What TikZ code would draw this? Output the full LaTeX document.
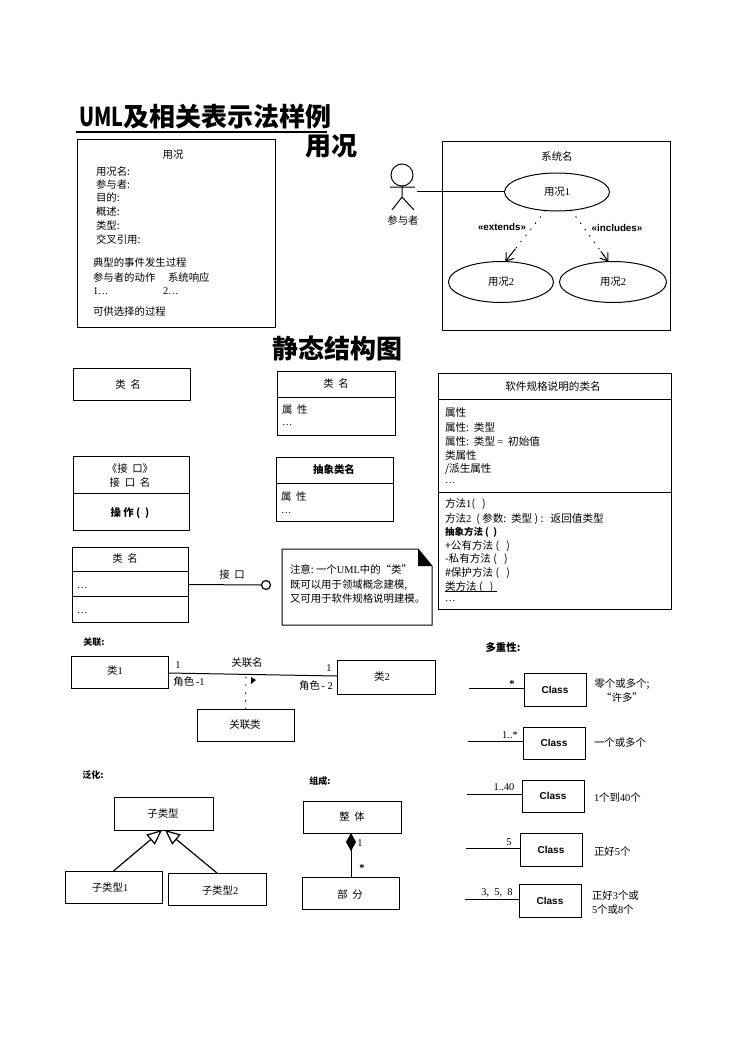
\documentclass[tikz,border=0pt]{standalone}
\usepackage{fontspec}
\setmainfont{Noto Sans CJK SC}
\newfontfamily\numf{Liberation Serif}
\newfontfamily\clsf{Liberation Sans}
\usetikzlibrary{shapes.geometric,arrows.meta,calc}
\tikzset{
  box/.style={draw=black,line width=1pt,rectangle,inner sep=0pt,outer sep=0pt,font=\fontsize{10.4}{12}\selectfont},
  lbl/.style={anchor=west,inner sep=0pt,outer sep=0pt,text height=8.5pt,text depth=1.5pt,font=\fontsize{10.4}{12}\selectfont},
  ctr/.style={lbl,anchor=center},
  head/.style={ctr,font=\fontsize{10.4}{12}\selectfont\bfseries},
  big/.style={anchor=center,inner sep=0pt,font=\fontsize{26}{28}\selectfont\bfseries},
  uc/.style={draw=black,line width=1pt,ellipse,inner sep=0pt,outer sep=0pt,font=\fontsize{10.4}{12}\selectfont},
  stereo/.style={anchor=center,inner sep=0pt,font=\clsf\fontsize{9.8}{10}\selectfont\bfseries},
  cls/.style={box,font=\clsf\fontsize{10}{12}\selectfont\bfseries},
  conn/.style={draw=black,line width=1pt},
  sep/.style={draw=black,line width=1pt},
  dots/.style={draw=black,line width=1pt,line cap=round,dash pattern=on 0.8pt off 7pt},
  barb/.style={draw=black,line width=1pt,-{Straight Barb[length=7pt,width=10pt]}},
  gen/.style={draw=black,line width=1.2pt,-{Triangle[open,length=15pt,width=13pt,fill=white]}},
  swl/.style={lbl,font=\fontsize{10.6}{12}\selectfont}
}
\begin{document}
\begin{tikzpicture}[x=1pt,y=-1pt]
\useasboundingbox (0,0) rectangle (753,1062);
\fill[white] (0,0) rectangle (753,1062);
% Title
\node[big,anchor=west] (title) at (79,117) {\scalebox{0.76}[1]{UML}及相关表示法样例};
\draw[line width=1.2pt] (76,132) -- (327,132);
\node[big] (t1) at (331,146) {用况};
\node[big] (t2) at (337,348) {静态结构图};
% Use case text
\node[box,minimum width=198pt,minimum height=188pt] (ucbox) at (176,233) {};
\node[ctr] (uh) at (173,155) {用况};
\node[lbl] (u01) at (96,172) {用况名:};
\node[lbl] (u02) at (96,185) {参与者:};
\node[lbl] (u03) at (96,198) {目的:};
\node[lbl] (u04) at (96,212) {概述:};
\node[lbl] (u05) at (96,226) {类型:};
\node[lbl] (u06) at (96,240) {交叉引用:};
\node[lbl] (u07) at (93,263) {典型的事件发生过程};
\node[lbl] (u08) at (93,278) {参与者的动作};
\node[lbl] (u09) at (168,278) {系统响应};
\node[lbl] (u10) at (93,291) {\numf 1…};
\node[lbl] (u11) at (163,291) {\numf 2…};
\node[lbl] (u12) at (93,312) {可供选择的过程};
% Use case diagram
\node[box,minimum width=228pt,minimum height=189pt] (sys) at (556,235.5) {};
\node[ctr] (sysn) at (557,157) {系统名};
\node[uc,minimum width=105pt,minimum height=38pt] (uc1) at (557,192) {用况{\numf 1}};
\node[uc,minimum width=105pt,minimum height=41pt] (uc2) at (501,282) {用况{\numf 2}};
\node[uc,minimum width=107pt,minimum height=41pt] (uc3) at (613,282) {用况{\numf 2}};
\node[draw=black,line width=1pt,circle,minimum size=22pt,inner sep=0pt,outer sep=0pt] (acth) at (402,175) {};
\coordinate (actb) at (402,197);
\draw[line width=1pt] (acth.south) -- (actb) (390,187) -- (415,187) (392,210) -- (actb) -- (414,210);
\node[ctr] (actn) at (403,221) {参与者};
\coordinate (actr) at (417,191);
\draw[conn] (actr) -- (actr -| uc1.west);
\draw[dots] (uc1.-122) -- (uc2.78);
\draw[barb] ($(uc1.-122)!0.75!(uc2.78)$) -- (uc2.78);
\draw[dots] (uc1.-52) -- (uc3.103);
\draw[barb] ($(uc1.-52)!0.8!(uc3.103)$) -- (uc3.103);
\node[stereo,fill=white,inner sep=1pt] (ext) at (502,227) {«extends»};
\node[stereo,fill=white,inner sep=1pt] (inc) at (617,228) {«includes»};
% Static structure
\node[box,minimum width=117pt,minimum height=32pt] (c1) at (131.5,384) {};
\node[ctr] (c1t) at (128,385) {类\ \ 名};
\node[box,minimum width=118pt,minimum height=64pt] (c2) at (336,403) {};
\draw[sep] (c2.west |- 0,397) -- (c2.east |- 0,397);
\node[ctr] (c2t) at (336,384) {类\ \ 名};
\node[lbl] (c2a) at (282,410) {属\ \ 性};
\node[lbl] (c2b) at (282,422) {\numf …};
% Software class
\node[box,minimum width=233pt,minimum height=236pt] (sw) at (554.5,491) {};
\draw[sep] (sw.west |- 0,399) -- (sw.east |- 0,399);
\draw[sep] (sw.west |- 0,492) -- (sw.east |- 0,492);
\node[ctr,font=\fontsize{10.6}{12}\selectfont] (swt) at (553,387) {软件规格说明的类名};
\node[swl] (s1) at (445,413) {属性};
\node[swl] (s2) at (445,428) {属性:\ \ 类型};
\node[swl] (s3) at (445,442) {属性:\ \ 类型\ {\numf =}\ \ 初始值};
\node[swl] (s4) at (445,456) {类属性};
\node[swl] (s5) at (445,469) {/派生属性};
\node[swl] (s6) at (445,480) {\numf …};
\node[swl] (s7) at (445,504) {方法{\numf 1}(\ \ \ )};
\node[swl] (s8) at (445,519) {方法{\numf 2}\ \ (\ 参数:\ \ 类型\ )\ :\ \ \ 返回值类型};
\node[swl,font=\fontsize{9.5}{12}\selectfont\bfseries] (s9) at (445,532) {抽象方法\ (\ \ )};
\node[swl] (s10) at (445,546) {+公有方法\ (\ \ \ )};
\node[swl] (s11) at (445,559) {-私有方法\ (\ \ \ )};
\node[swl] (s12) at (445,573) {\#保护方法\ (\ \ \ )};
\node[swl] (s13) at (445,587) {类方法\ (\ \ \ )};
\draw[line width=0.9pt] (s13.south west) ++(0,1pt) -- ++(52pt,0);
\node[swl] (s14) at (445,598) {\numf …};
% Interface
\node[box,minimum width=116pt,minimum height=74pt] (ifc) at (131,493) {};
\draw[sep] (ifc.west |- 0,493) -- (ifc.east |- 0,493);
\node[ctr] (ifa) at (130,469) {《接\ \ 口》};
\node[ctr] (ifb) at (130,483) {接\ \ 口\ \ 名};
\node[head,font=\fontsize{10.4}{12}\selectfont\bfseries] (ifc1) at (130,513) {操\ 作\ (\ \ )};
% Abstract
\node[box,minimum width=117pt,minimum height=64pt] (abs) at (334.5,489) {};
\draw[sep] (abs.west |- 0,483) -- (abs.east |- 0,483);
\node[head] (abst) at (334,470) {抽象类名};
\node[lbl] (absa) at (281,497) {属\ \ 性};
\node[lbl] (absb) at (281,510) {\numf …};
% Class with interface
\node[box,minimum width=116pt,minimum height=75pt] (ci) at (130,584.5) {};
\draw[sep] (ci.west |- 0,571) -- (ci.east |- 0,571);
\draw[sep] (ci.west |- 0,596) -- (ci.east |- 0,596);
\node[ctr] (cit) at (125,559) {类\ \ 名};
\node[lbl] (cia) at (77,585) {\numf …};
\node[lbl] (cib) at (77,610) {\numf …};
\node[draw=black,line width=1.2pt,circle,minimum size=9pt,inner sep=0pt,outer sep=0pt,fill=white] (lolly) at (266,585) {};
\draw[conn] (ci.east) -- (lolly.west);
\node[ctr] (lollyt) at (232,575) {接\ \ 口};
% Note
\node[inner sep=0pt,outer sep=0pt,minimum width=150pt,minimum height=76pt] (note) at (357,587) {};
\draw[line width=1pt] (note.north west) -- ([xshift=-14pt]note.north east) -- ([yshift=-17pt]note.north east) -- (note.south east) -- (note.south west) -- cycle;
\fill ([xshift=-14pt]note.north east) -- ([yshift=-17pt]note.north east) -- ([xshift=-14pt,yshift=-17pt]note.north east) -- cycle;
\node[lbl] (n1) at (290,570) {注意:\ 一个{\numf UML}中的“类”};
\node[lbl] (n2) at (290,585) {既可以用于领域概念建模,};
\node[lbl] (n3) at (290,599) {又可用于软件规格说明建模。};
% Association
\node[head,font=\fontsize{9}{12}\selectfont\bfseries] (ah) at (94,642) {关联:};
\node[box,minimum width=97pt,minimum height=32pt] (a1) at (119.5,672) {};
\node[ctr] (a1t) at (115,671) {类{\numf 1}};
\node[box,minimum width=98pt,minimum height=34pt] (a2) at (386,677) {};
\node[ctr] (a2t) at (382,677) {类{\numf 2}};
\draw[conn] ([yshift=-1pt]a1.east) -- ([yshift=1pt]a2.west);
\node[ctr] (a3) at (178,665) {\numf 1};
\node[ctr] (a4) at (247,663) {关联名};
\node[ctr] (a5) at (329,668) {\numf 1};
\node[ctr] (a6) at (189,682) {角色\,{\numf -1}};
\node[ctr] (a7) at (316,686) {角色\,{\numf - 2}};
\fill (251,677) -- (256,680) -- (251,684) -- cycle;
\node[box,minimum width=97pt,minimum height=32pt] (ac) at (245.5,725) {};
\node[ctr] (act) at (245,725) {关联类};
\coordinate (am) at (246,677);
\draw[dots] (am) -- (ac.north);
% Multiplicity
\node[head] (mh) at (503,648) {多重性:};
\node[cls,minimum width=62pt,minimum height=33pt] (m1) at (555,689.5) {Class};
\node[cls,minimum width=62pt,minimum height=32pt] (m2) at (554,743) {Class};
\node[cls,minimum width=62pt,minimum height=32pt] (m3) at (553,796) {Class};
\node[cls,minimum width=62pt,minimum height=33pt] (m4) at (551,849.5) {Class};
\node[cls,minimum width=62pt,minimum height=33pt] (m5) at (550,900.5) {Class};
\coordinate (e1) at (469,688);
\coordinate (e2) at (468,741);
\coordinate (e3) at (467,794);
\coordinate (e4) at (466,848);
\coordinate (e5) at (465,899);
\draw[conn] (e1) -- (e1 -| m1.west);
\draw[conn] (e2) -- (e2 -| m2.west);
\draw[conn] (e3) -- (e3 -| m3.west);
\draw[conn] (e4) -- (e4 -| m4.west);
\draw[conn] (e5) -- (e5 -| m5.west);
\node[ctr] (l1) at (512,684) {\numf\bfseries *};
\node[ctr] (l2) at (510,735) {\numf 1..*};
\node[ctr] (l3) at (504,787) {\numf 1..40};
\node[ctr] (l4) at (509,842) {\numf 5};
\node[ctr] (l5) at (497,892) {\numf 3,\ \ 5,\ \ 8};
\node[ctr] (d1) at (622,684) {零个或多个;};
\node[ctr] (d1b) at (622,698) {“许多”};
\node[ctr] (d2) at (620,743) {一个或多个};
\node[lbl] (d3) at (594,798) {{\numf 1}个到{\numf 40}个};
\node[lbl] (d4) at (594,852) {正好{\numf 5}个};
\node[lbl] (d5) at (592,896) {正好{\numf 3}个或};
\node[lbl] (d5b) at (592,910) {{\numf 5}个或{\numf 8}个};
% Generalization
\node[head,font=\fontsize{9}{12}\selectfont\bfseries] (gh) at (93,775) {泛化:};
\node[box,minimum width=99pt,minimum height=33pt] (g0) at (163.5,813.5) {};
\node[ctr] (g0t) at (163,814) {子类型};
\node[box,minimum width=97pt,minimum height=32pt] (g1) at (113.5,887) {};
\node[ctr] (g1t) at (110,888) {子类型{\numf 1}};
\node[box,minimum width=98pt,minimum height=32pt] (g2) at (217,889) {};
\node[ctr] (g2t) at (220,891) {子类型{\numf 2}};
\draw[gen] (g1.north) -- ([xshift=-1.5pt]g0.south);
\draw[gen] (g2.north) -- ([xshift=1.5pt]g0.south);
% Composition
\node[head,font=\fontsize{9}{12}\selectfont\bfseries] (ch) at (320,781) {组成:};
\node[box,minimum width=98pt,minimum height=32pt] (w) at (352,817) {};
\node[ctr] (wt) at (352,817) {整\ \ 体};
\node[box,minimum width=97pt,minimum height=32pt] (p) at (350.5,893) {};
\node[ctr] (pt) at (350,895) {部\ \ 分};
\draw[conn,-{Diamond[length=18pt,width=10pt]}] ([xshift=.5pt]p.north) -- ([xshift=-1pt]w.south);
\node[ctr] (c1n) at (360,843) {\numf 1};
\node[ctr] (c2n) at (362,868) {\numf\bfseries *};
\end{tikzpicture}
\end{document}
